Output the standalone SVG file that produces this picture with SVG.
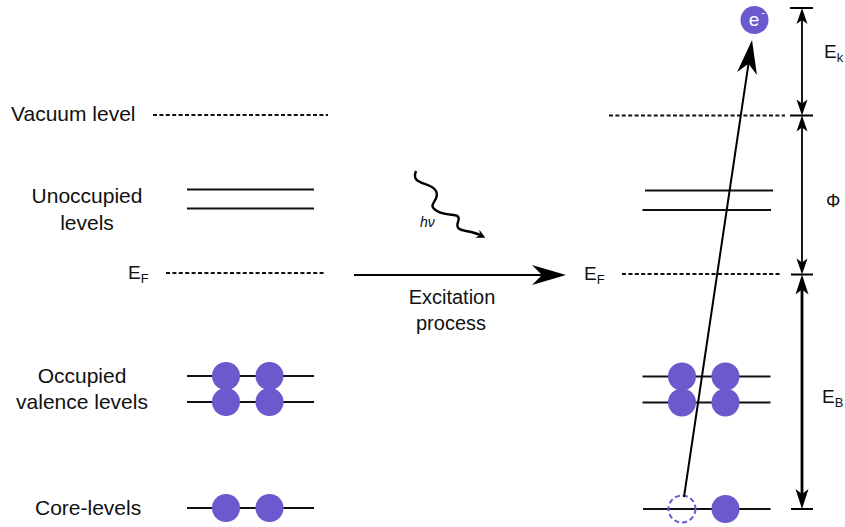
<svg xmlns="http://www.w3.org/2000/svg" width="845" height="527" viewBox="0 0 845 527">
<defs>
<style>
.lbl{font-family:"Liberation Sans",Arial,sans-serif;font-size:21px;fill:#111}
.sym{font-family:"Liberation Sans",Arial,sans-serif;font-size:19px;fill:#111}
.sub{font-size:13px}
.lvl{stroke:#111;stroke-width:2;fill:none}
.dash{stroke:#111;stroke-width:2;stroke-dasharray:4 2.4;fill:none}
.el{fill:#6a5acd}
.hole{fill:none;stroke:#6a5acd;stroke-width:2;stroke-dasharray:5 3}
.ln{stroke:#000;stroke-width:2;fill:none}
.tick{stroke:#000;stroke-width:2}
</style>
<marker id="stealth" markerUnits="userSpaceOnUse" orient="auto" overflow="visible" markerWidth="1" markerHeight="1">
<path d="M24,0 L-10,-10 L0,0 L-10,10 Z" fill="#000"/>
</marker>
<marker id="dim" markerUnits="userSpaceOnUse" orient="auto-start-reverse" overflow="visible" markerWidth="1" markerHeight="1">
<path d="M12,0 L-4,-5.5 L0,0 L-4,5.5 Z" fill="#000"/>
</marker>
<marker id="dimLg" markerUnits="userSpaceOnUse" orient="auto-start-reverse" overflow="visible" markerWidth="1" markerHeight="1">
<path d="M15,0 L-5,-6.5 L0,0 L-5,6.5 Z" fill="#000"/>
</marker>
<marker id="small" markerUnits="userSpaceOnUse" orient="auto" overflow="visible" markerWidth="1" markerHeight="1">
<path d="M6,0 L-3,-4.5 L0,0 L-3,4.5 Z" fill="#000"/>
</marker>
</defs>
<rect width="845" height="527" fill="#fff"/>

<!-- initial state (left) -->
<g id="vacuum-left">
<text class="lbl" x="11" y="121">Vacuum level</text>
<line class="dash" x1="153" y1="115" x2="328" y2="115"/>
</g>
<g id="unoccupied-left">
<text class="lbl" text-anchor="middle" x="87" y="203">Unoccupied</text>
<text class="lbl" text-anchor="middle" x="87" y="230">levels</text>
<line class="lvl" x1="187" y1="189.5" x2="314" y2="189.5"/>
<line class="lvl" x1="187" y1="208.5" x2="314" y2="208.5"/>
</g>
<g id="fermi-left">
<text class="sym" x="128" y="279">E<tspan class="sub" dy="4">F</tspan></text>
<line class="dash" x1="166" y1="273" x2="326" y2="273"/>
</g>
<g id="valence-left">
<text class="lbl" text-anchor="middle" x="82" y="383">Occupied</text>
<text class="lbl" text-anchor="middle" x="82" y="409">valence levels</text>
<line class="lvl" x1="187" y1="376" x2="314" y2="376"/>
<line class="lvl" x1="187" y1="402" x2="314" y2="402"/>
<circle class="el" cx="226" cy="376" r="14"/>
<circle class="el" cx="269.5" cy="376" r="14"/>
<circle class="el" cx="226" cy="402" r="14"/>
<circle class="el" cx="269.5" cy="402" r="14"/>
</g>
<g id="core-left">
<text class="lbl" x="35" y="515">Core-levels</text>
<line class="lvl" x1="187" y1="508" x2="314" y2="508"/>
<circle class="el" cx="226" cy="508" r="14"/>
<circle class="el" cx="269.5" cy="508" r="14"/>
</g>

<!-- excitation -->
<g id="photon">
<path class="ln" style="stroke-width:2.4" d="M416,171 C410,186 431,181 436,191 C441,201 425,204 437,211 C449,218 462,211 458,222 C454,233 468,229 480,235" marker-end="url(#small)"/>
<text x="420" y="227" font-family="Liberation Sans, Arial, sans-serif" font-size="14" font-style="italic" fill="#111">hν</text>
</g>
<g id="excitation-label">
<text class="lbl" text-anchor="middle" x="452" y="304" style="font-size:20px">Excitation</text>
<text class="lbl" text-anchor="middle" x="451" y="330" style="font-size:20px">process</text>
</g>

<!-- final state (right) -->
<g id="vacuum-right">
<line class="dash" x1="609" y1="115.5" x2="785" y2="115.5"/>
</g>
<g id="unoccupied-right">
<line class="lvl" x1="645" y1="190.5" x2="773" y2="190.5"/>
<line class="lvl" x1="642.5" y1="210" x2="771" y2="210"/>
</g>
<g id="fermi-right">
<text class="sym" x="584" y="280">E<tspan class="sub" dy="4">F</tspan></text>
<line class="dash" x1="622" y1="274" x2="782" y2="274"/>
</g>
<g id="valence-right">
<line class="lvl" x1="642.5" y1="376.5" x2="770.5" y2="376.5"/>
<line class="lvl" x1="642.5" y1="402.5" x2="770.5" y2="402.5"/>
<circle class="el" cx="682" cy="376.5" r="14"/>
<circle class="el" cx="725.5" cy="376.5" r="14"/>
<circle class="el" cx="682" cy="402.5" r="14"/>
<circle class="el" cx="725.5" cy="402.5" r="14"/>
</g>
<g id="core-right">
<line class="lvl" x1="643" y1="509" x2="770.5" y2="509"/>
<circle class="hole" cx="682" cy="509" r="13.5"/>
<circle class="el" cx="725.5" cy="509" r="14"/>
</g>
<g id="photoelectron">
<circle class="el" cx="754.5" cy="20" r="14"/>
<text x="754" y="26" text-anchor="middle" font-family="Liberation Sans, Arial, sans-serif" font-size="19" fill="#fff">e</text>
<text x="763" y="16" text-anchor="middle" font-family="Liberation Sans, Arial, sans-serif" font-size="11" fill="#fff">-</text>
</g>

<!-- energy scale -->
<g id="energy-scale">
<line class="tick" x1="790" y1="8" x2="813" y2="8"/>
<line class="tick" x1="790" y1="115.5" x2="813" y2="115.5"/>
<line class="tick" x1="791" y1="274.5" x2="813" y2="274.5"/>
<line class="tick" x1="791" y1="509" x2="813" y2="509"/>
<text class="sym" x="824" y="58">E<tspan class="sub" dy="4">k</tspan></text>
<text class="sym" x="826" y="207" style="font-size:18px">Φ</text>
<text class="sym" x="822" y="403">E<tspan class="sub" dy="4">B</tspan></text>
</g>

<g id="connectors">
<line class="ln" x1="354" y1="275" x2="542" y2="275" marker-end="url(#stealth)"/>
<line class="ln" x1="684" y1="497" x2="748.5" y2="63.7" marker-end="url(#stealth)"/>
<line class="ln" style="stroke-width:1.8" x1="802" y1="20" x2="802" y2="103.5" marker-start="url(#dim)" marker-end="url(#dim)"/>
<line class="ln" style="stroke-width:1.8" x1="802" y1="127.5" x2="802" y2="262.5" marker-start="url(#dim)" marker-end="url(#dim)"/>
<line class="ln" style="stroke-width:2.8" x1="802" y1="289.5" x2="802" y2="494" marker-start="url(#dimLg)" marker-end="url(#dimLg)"/>
</g>
</svg>
